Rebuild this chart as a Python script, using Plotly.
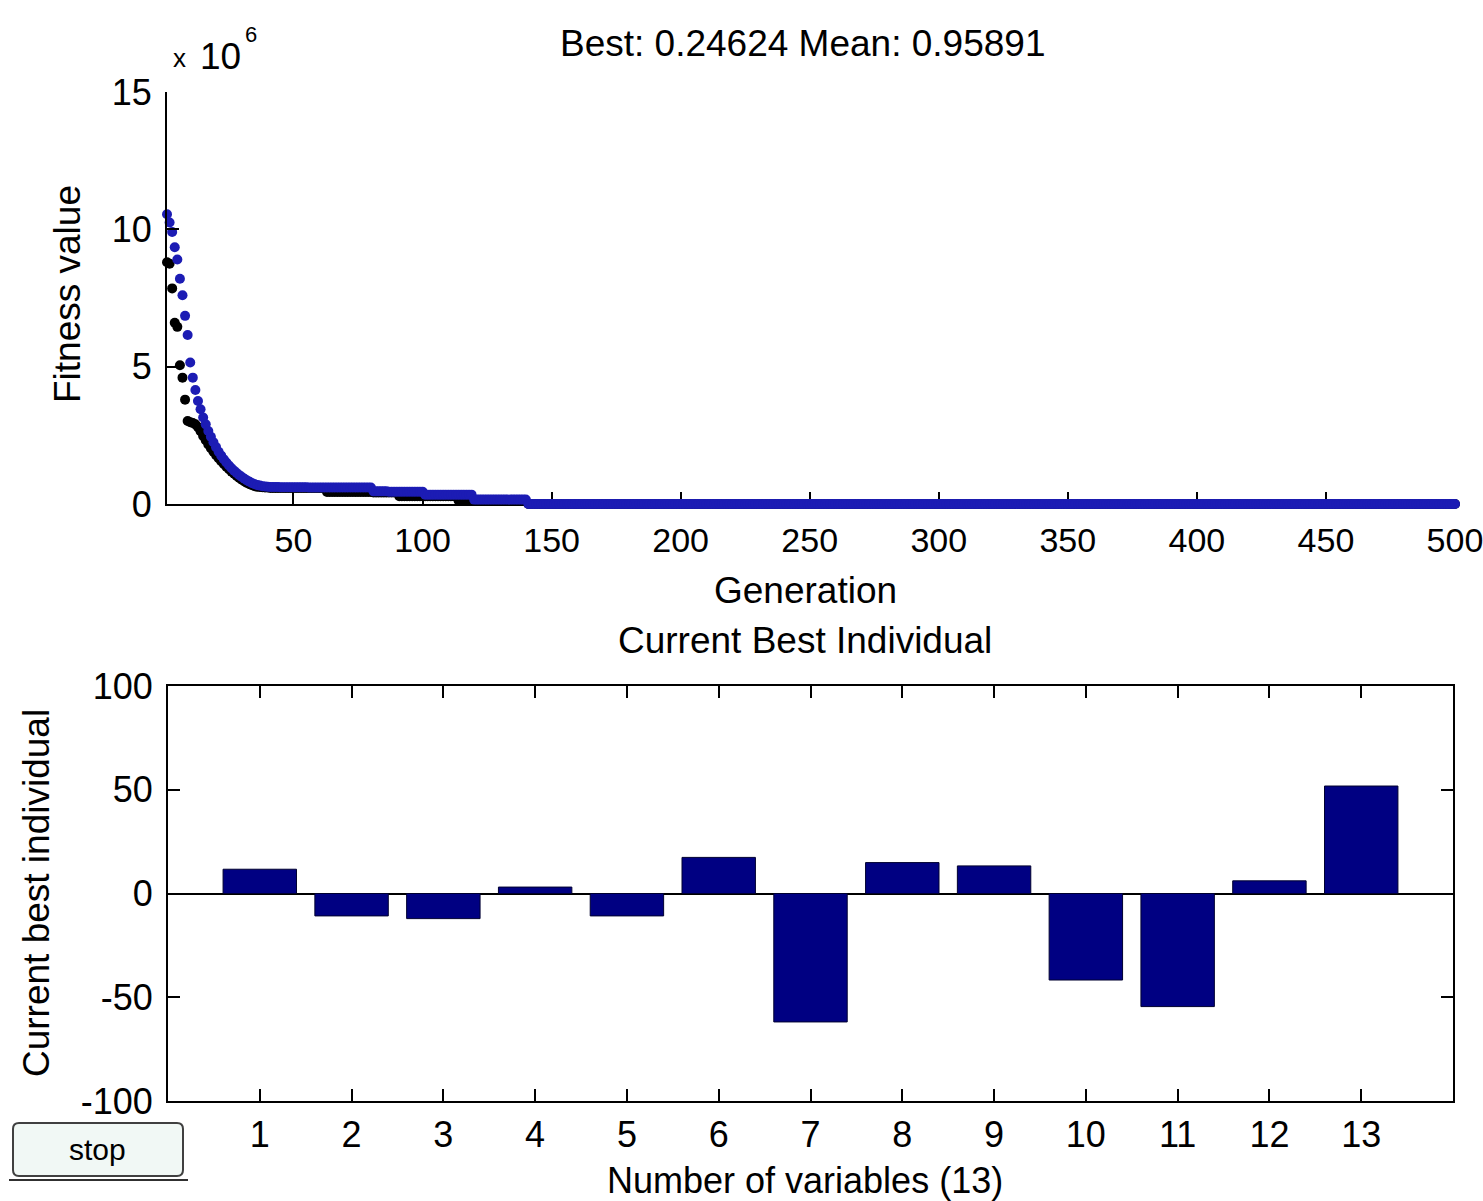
import plotly.graph_objects as go

W, H = 1483, 1201

# ---------------- data ----------------
generations = list(range(1, 501))

# fitness values in units of 1e6, generations 1..140
best_head_1e6 = [
    8.80, 8.75, 7.85, 6.60, 6.45, 5.05, 4.60, 3.80, 3.02, 2.98,
    2.95, 2.90, 2.80, 2.65, 2.48, 2.32, 2.17, 2.03, 1.90, 1.78,
    1.67, 1.56, 1.46, 1.36, 1.27, 1.18, 1.10, 1.02, 0.95, 0.88,
    0.82, 0.77, 0.72, 0.68, 0.65, 0.63, 0.62, 0.61, 0.60, 0.60,
    0.58, 0.58, 0.58, 0.58, 0.58, 0.58, 0.58, 0.58, 0.58, 0.58,
    0.58, 0.58, 0.58, 0.58, 0.58, 0.58, 0.58, 0.58, 0.58, 0.58,
    0.58, 0.58, 0.44, 0.44, 0.44, 0.44, 0.44, 0.44, 0.44, 0.44,
    0.44, 0.44, 0.44, 0.44, 0.44, 0.44, 0.44, 0.44, 0.44, 0.44,
    0.42, 0.42, 0.42, 0.42, 0.42, 0.42, 0.42, 0.42, 0.42, 0.42,
    0.28, 0.28, 0.28, 0.28, 0.28, 0.28, 0.28, 0.28, 0.28, 0.28,
    0.28, 0.28, 0.28, 0.28, 0.28, 0.28, 0.28, 0.28, 0.28, 0.28,
    0.28, 0.28, 0.28, 0.12, 0.12, 0.12, 0.12, 0.12, 0.12, 0.12,
    0.12, 0.12, 0.12, 0.12, 0.12, 0.12, 0.12, 0.12, 0.12, 0.12,
    0.12, 0.12, 0.12, 0.12, 0.12, 0.12, 0.12, 0.12, 0.12, 0.12,
]
mean_head_1e6 = [
    10.55, 10.25, 9.90, 9.35, 8.90, 8.20, 7.60, 6.85, 6.15, 5.15,
    4.60, 4.15, 3.75, 3.45, 3.15, 2.90, 2.66, 2.45, 2.25, 2.07,
    1.90, 1.76, 1.63, 1.51, 1.40, 1.30, 1.21, 1.13, 1.05, 0.98,
    0.92, 0.86, 0.81, 0.76, 0.72, 0.69, 0.67, 0.65, 0.64, 0.63,
    0.62, 0.62, 0.62, 0.62, 0.61, 0.61, 0.61, 0.61, 0.61, 0.61,
    0.61, 0.61, 0.61, 0.61, 0.61, 0.60, 0.60, 0.60, 0.60, 0.60,
    0.60, 0.60, 0.60, 0.60, 0.60, 0.60, 0.60, 0.60, 0.60, 0.60,
    0.60, 0.60, 0.60, 0.60, 0.60, 0.60, 0.60, 0.60, 0.60, 0.60,
    0.46, 0.46, 0.46, 0.46, 0.46, 0.46, 0.45, 0.45, 0.45, 0.45,
    0.45, 0.45, 0.45, 0.45, 0.45, 0.45, 0.45, 0.45, 0.45, 0.45,
    0.34, 0.34, 0.34, 0.34, 0.34, 0.34, 0.34, 0.34, 0.34, 0.34,
    0.34, 0.34, 0.34, 0.34, 0.34, 0.34, 0.34, 0.34, 0.34, 0.16,
    0.16, 0.16, 0.16, 0.16, 0.16, 0.16, 0.16, 0.16, 0.16, 0.16,
    0.16, 0.16, 0.16, 0.16, 0.16, 0.16, 0.16, 0.16, 0.16, 0.16,
]
# generations 141..500 sit at the converged values (raw units)
final_best = 0.24624
final_mean = 0.95891
n_tail = len(generations) - len(best_head_1e6)
best_fitness_1e6 = best_head_1e6 + [final_best / 1e6] * n_tail
mean_fitness_1e6 = mean_head_1e6 + [final_mean / 1e6] * n_tail

variables = list(range(1, 14))
best_individual = [11.7, -10.8, -12.1, 3.1, -10.8, 17.4, -61.9,
                   14.9, 13.3, -41.7, -54.5, 6.1, 51.8]

gen_ticks = [50, 100, 150, 200, 250, 300, 350, 400, 450, 500]
fit_ticks = [0, 5, 10, 15]
ind_ticks = [-100, -50, 0, 50, 100]
ind_tick_text = ["-100", "-50", "0", "50", "100"]

# ---------------- helpers ----------------
def px(x):
    return x / W

def py(y):
    return 1 - y / H

FONT = "Liberation Sans, Arial, sans-serif"
TICKFONT = dict(family=FONT, size=36, color="black")

fig = go.Figure()

fig.add_trace(go.Scatter(
    x=generations, y=best_fitness_1e6, mode="markers",
    marker=dict(color="black", size=10, line=dict(width=0)),
    cliponaxis=False, xaxis="x", yaxis="y", showlegend=False))
fig.add_trace(go.Scatter(
    x=generations, y=mean_fitness_1e6, mode="markers",
    marker=dict(color="#1c1cb4", size=10, line=dict(width=0)),
    cliponaxis=False, xaxis="x", yaxis="y", showlegend=False))

fig.add_trace(go.Bar(
    x=variables, y=best_individual, width=0.8,
    marker=dict(color="#000082", line=dict(color="#000030", width=1)),
    xaxis="x2", yaxis="y2", showlegend=False))

axis_common = dict(
    showgrid=False, ticks="inside", ticklen=12, tickwidth=2, tickcolor="black",
    showline=True, linewidth=2, linecolor="black", tickfont=TICKFONT,
    automargin=False, ticklabeloverflow="allow",
)

fig.update_layout(
    width=W, height=H, autosize=False,
    margin=dict(l=0, r=0, t=0, b=0, autoexpand=False),
    paper_bgcolor="white", plot_bgcolor="white",
    bargap=0.2,
    xaxis=dict(axis_common, domain=[px(167), px(1455)], range=[1, 500.01],
               tickmode="array", tickvals=gen_ticks, zeroline=False,
               tickfont=dict(family=FONT, size=34, color="black"),
               anchor="y", layer="below traces", ticklabelstandoff=5),
    yaxis=dict(axis_common, domain=[py(504), py(92)], range=[0, 15],
               tickmode="array", tickvals=fit_ticks, zeroline=False,
               anchor="x", ticklabelstandoff=6),
    xaxis2=dict(axis_common, domain=[px(168), px(1453)], range=[0, 14],
                tickmode="array", tickvals=variables, zeroline=False,
                mirror="ticks", anchor="y2", ticklabelstandoff=1),
    yaxis2=dict(axis_common, domain=[py(1101), py(686)], range=[-100, 100],
                tickmode="array", tickvals=ind_ticks, ticktext=ind_tick_text,
                zeroline=True, zerolinecolor="black", zerolinewidth=2,
                mirror="ticks", anchor="x2", ticklabelstandoff=6),
)

def ann(text, x, y, size=37, angle=0, xanchor="center", yanchor="middle"):
    fig.add_annotation(text=text, x=px(x), y=py(y), xref="paper", yref="paper",
                       showarrow=False, textangle=angle, xanchor=xanchor,
                       yanchor=yanchor, font=dict(family=FONT, size=size, color="black"))

ann("Best: 0.24624 Mean: 0.95891", 802, 44, size=37)
ann("Generation", 805, 590)
ann("Current Best Individual", 805, 640)
ann("Number of variables (13)", 805, 1180, size=36)
ann("Fitness value", 68, 294, angle=-90)
ann("Current best individual", 36, 893, angle=-90)
ann("x", 179, 58, size=26)
ann("10", 221, 56, size=37)
ann("6", 251, 35, size=22)

# stop button (rounded rectangle)
x0, y0, x1, y1, r = 13, 1123, 183, 1176, 6
pts = [
    ("M", x0 + r, y0), ("L", x1 - r, y0), ("Q", x1, y0, x1, y0 + r),
    ("L", x1, y1 - r), ("Q", x1, y1, x1 - r, y1), ("L", x0 + r, y1),
    ("Q", x0, y1, x0, y1 - r), ("L", x0, y0 + r), ("Q", x0, y0, x0 + r, y0),
]
path = ""
for p in pts:
    cmd = p[0]
    coords = p[1:]
    s = " ".join(f"{px(coords[i]):.5f},{py(coords[i+1]):.5f}" for i in range(0, len(coords), 2))
    path += f"{cmd} {s} "
path += "Z"
fig.add_shape(type="path", path=path, xref="paper", yref="paper",
              fillcolor="#f1f8f5", line=dict(color="#404040", width=2))
fig.add_shape(type="line", x0=px(9), x1=px(188), y0=py(1180), y1=py(1180),
              xref="paper", yref="paper", line=dict(color="#303030", width=2))
ann("stop", 97, 1149, size=30)

fig.write_html("out.html", config={"displayModeBar": False},
               post_script="document.body.style.margin='0';document.body.style.overflow='hidden';")
